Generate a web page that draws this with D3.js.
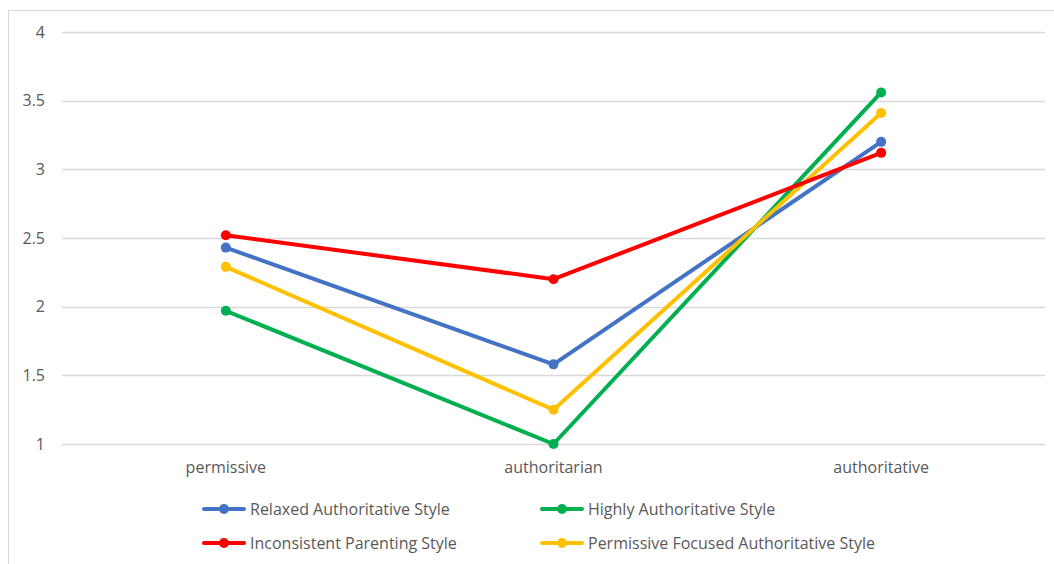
<!DOCTYPE html>
<html>
<head>
<meta charset="utf-8">
<script src="https://cdn.jsdelivr.net/npm/d3@7"></script>
<style>
  body { margin: 0; background: #fff; }
  text { font-family: "Open Sans", "Noto Sans", sans-serif; fill: #595959; }
</style>
</head>
<body>
<svg id="chart" width="1054" height="564"></svg>
<script>
// data
const categories = ['permissive', 'authoritarian', 'authoritative'];
const seriesNames = [
    'Relaxed Authoritative Style',
    'Highly Authoritative Style',
    'Inconsistent Parenting Style',
    'Permissive Focused Authoritative Style'
];
const seriesColors = ['#4472C4', '#00B050', '#FF0000', '#FFC000'];
const relaxed = [2.43, 1.58, 3.20];
const highly = [1.97, 1.00, 3.56];
const inconsistent = [2.52, 2.20, 3.12];
const permissiveFocused = [2.29, 1.25, 3.41];
const yTicks = [1, 1.5, 2, 2.5, 3, 3.5, 4];

const seriesValues = [relaxed, highly, inconsistent, permissiveFocused];
// draw order: later ones on top
const drawOrder = [0, 1, 3, 2];

const svg = d3.select('#chart');

// outer frame (cut off on right/bottom like the screenshot)
svg.append('rect')
    .attr('x', 8.5).attr('y', 10.5)
    .attr('width', 1100).attr('height', 600)
    .attr('fill', 'none')
    .attr('stroke', '#d9d9d9');

const plot = { left: 62, right: 1045, top: 32, bottom: 444 };

const x = d3.scaleBand()
    .domain(categories)
    .range([plot.left, plot.right]);

const y = d3.scaleLinear()
    .domain([1, 4])
    .range([plot.bottom, plot.top]);

// gridlines
svg.append('g')
    .selectAll('line')
    .data(yTicks)
    .join('line')
    .attr('x1', plot.left).attr('x2', plot.right)
    .attr('y1', d => Math.round(y(d)) + 0.5)
    .attr('y2', d => Math.round(y(d)) + 0.5)
    .attr('stroke', '#d9d9d9')
    .attr('stroke-width', 1.3);

// y labels
svg.append('g')
    .selectAll('text')
    .data(yTicks)
    .join('text')
    .attr('x', 45)
    .attr('y', d => y(d))
    .attr('dy', '0.35em')
    .attr('text-anchor', 'end')
    .attr('font-size', 16)
    .text(d => d);

// category labels
svg.append('g')
    .selectAll('text')
    .data(categories)
    .join('text')
    .attr('x', d => x(d) + x.bandwidth() / 2)
    .attr('y', 467)
    .attr('dy', '0.35em')
    .attr('text-anchor', 'middle')
    .attr('font-size', 16)
    .text(d => d);

const line = d3.line()
    .x((d, i) => x(categories[i]) + x.bandwidth() / 2)
    .y(d => y(d));

drawOrder.forEach(s => {
    const g = svg.append('g');
    g.append('path')
        .datum(seriesValues[s])
        .attr('d', line)
        .attr('fill', 'none')
        .attr('stroke', seriesColors[s])
        .attr('stroke-width', 4)
        .attr('stroke-linejoin', 'round')
        .attr('stroke-linecap', 'round');
    g.selectAll('circle')
        .data(seriesValues[s])
        .join('circle')
        .attr('cx', (d, i) => x(categories[i]) + x.bandwidth() / 2)
        .attr('cy', d => y(d))
        .attr('r', 5)
        .attr('fill', seriesColors[s]);
});

// legend: 2 columns x 2 rows
const legendPos = [
    { x: 204, y: 509 },
    { x: 542, y: 509 },
    { x: 204, y: 543 },
    { x: 542, y: 543 }
];

const legend = svg.append('g')
    .selectAll('g')
    .data(seriesNames)
    .join('g')
    .attr('transform', (d, i) => `translate(${legendPos[i].x},${legendPos[i].y})`);

legend.append('line')
    .attr('x1', 0).attr('x2', 40)
    .attr('stroke', (d, i) => seriesColors[i])
    .attr('stroke-width', 4)
    .attr('stroke-linecap', 'round');

legend.append('circle')
    .attr('cx', 20).attr('r', 5)
    .attr('fill', (d, i) => seriesColors[i]);

legend.append('text')
    .attr('x', 46)
    .attr('dy', '0.35em')
    .attr('font-size', 16)
    .text(d => d);
</script>
</body>
</html>
